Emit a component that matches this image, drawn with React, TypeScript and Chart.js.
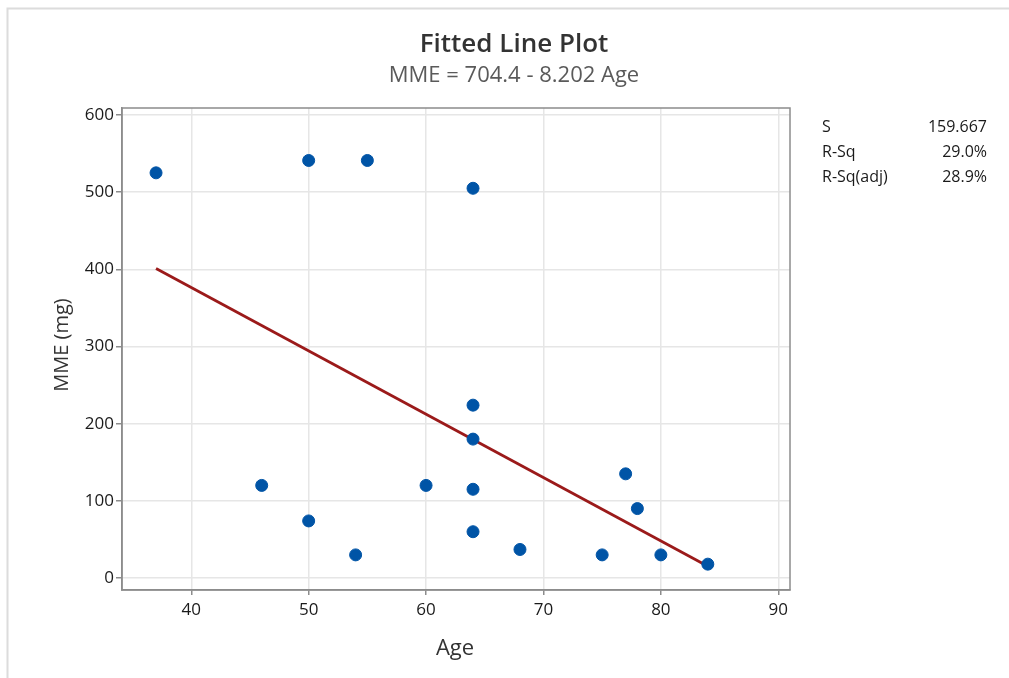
import React, { useEffect, useRef } from "react";
import { Chart, registerables } from "chart.js";

Chart.register(...registerables);

// Observations (Age, MME in mg)
const ages = [37, 50, 55, 64, 64, 64, 46, 60, 64, 50, 77, 78, 64, 54, 68, 75, 80, 84];
const mme = [525, 541, 541, 505, 224, 180, 120, 120, 115, 74, 135, 90, 60, 30, 37, 30, 30, 18];

// Fitted line end points (MME = 704.4 - 8.202 Age)
const fitAges = [37, 84];
const fitMme = [401.0, 15.4];

const xTicks = [40, 50, 60, 70, 80, 90];
const yTicks = [0, 100, 200, 300, 400, 500, 600];

const titleText = "Fitted Line Plot";
const subtitleText = "MME = 704.4 - 8.202 Age";
const xTitle = "Age";
const yTitle = "MME (mg)";
const statLabels = ["S", "R-Sq", "R-Sq(adj)"];
const statValues = ["159.667", "29.0%", "28.9%"];

const FONT = '"Open Sans", "Noto Sans", sans-serif';

export default function App() {
  const ref = useRef<HTMLCanvasElement>(null);

  useEffect(() => {
    if (!ref.current) return;

    const overlay = {
      id: "overlay",
      afterDraw(chart: any) {
        const { ctx, chartArea: a } = chart;
        ctx.save();
        // outer frame
        ctx.strokeStyle = "#dcdcdc";
        ctx.lineWidth = 2;
        ctx.beginPath();
        ctx.moveTo(7.5, 678);
        ctx.lineTo(7.5, 8.5);
        ctx.lineTo(1009, 8.5);
        ctx.stroke();

        // plot border
        ctx.strokeStyle = "#8c8c8c";
        ctx.lineWidth = 1.5;
        ctx.strokeRect(a.left, a.top, a.right - a.left, a.bottom - a.top);

        // titles
        ctx.textAlign = "center";
        ctx.textBaseline = "middle";
        ctx.fillStyle = "#333333";
        ctx.font = `600 26px ${FONT}`;
        ctx.fillText(titleText, 514, 45);
        ctx.fillStyle = "#5a5a5a";
        ctx.font = `22px ${FONT}`;
        ctx.fillText(subtitleText, 514, 76);

        // axis titles
        ctx.fillStyle = "#333333";
        ctx.font = `22px ${FONT}`;
        ctx.fillText(xTitle, 455, 649);
        ctx.font = `20px ${FONT}`;
        ctx.save();
        ctx.translate(62, 345);
        ctx.rotate(-Math.PI / 2);
        ctx.fillText(yTitle, 0, 0);
        ctx.restore();

        // stats
        ctx.fillStyle = "#1a1a1a";
        ctx.font = `16px ${FONT}`;
        statLabels.forEach((lab, i) => {
          const y = 127 + i * 25;
          ctx.textAlign = "left";
          ctx.fillText(lab, 822, y);
          ctx.textAlign = "right";
          ctx.fillText(statValues[i], 987, y);
        });
        ctx.restore();
      },
    };

    const chart = new Chart(ref.current, {
      type: "scatter",
      data: {
        datasets: [
          {
            type: "line",
            data: fitAges.map((x, i) => ({ x, y: fitMme[i] })),
            borderColor: "#9b1a1a",
            borderWidth: 2.8,
            pointRadius: 0,
            fill: false,
            order: 2,
          } as any,
          {
            type: "scatter",
            data: ages.map((x, i) => ({ x, y: mme[i] })),
            backgroundColor: "#0054a6",
            borderColor: "#0054a6",
            pointRadius: 6,
            pointHoverRadius: 6,
            order: 1,
          },
        ],
      },
      options: {
        responsive: false,
        animation: false,
        events: [],
        layout: { padding: { left: 0, top: 108, right: 219, bottom: 0 } },
        plugins: {
          legend: { display: false },
          tooltip: { enabled: false },
          title: { display: false },
        },
        scales: {
          x: {
            type: "linear",
            min: 34.1,
            max: 91.0,
            afterBuildTicks: (s: any) => {
              s.ticks = xTicks.map((v) => ({ value: v }));
            },
            afterFit: (s: any) => {
              s.height = 88;
            },
            grid: {
              color: "#e6e6e6",
              lineWidth: 1.5,
              tickColor: "#8c8c8c",
              tickLength: 5,
              tickWidth: 1.5,
            },
            border: { display: true, color: "#8c8c8c", width: 1.5 },
            ticks: {
              font: { family: FONT, size: 17 },
              color: "#1a1a1a",
              padding: 5,
              maxRotation: 0,
            },
          },
          y: {
            type: "linear",
            min: -15.5,
            max: 609,
            afterBuildTicks: (s: any) => {
              s.ticks = yTicks.map((v) => ({ value: v }));
            },
            afterFit: (s: any) => {
              s.width = 122;
            },
            grid: {
              color: "#e6e6e6",
              lineWidth: 1.5,
              tickColor: "#8c8c8c",
              tickLength: 6,
              tickWidth: 1.5,
            },
            border: { display: true, color: "#8c8c8c", width: 1.5 },
            ticks: {
              font: { family: FONT, size: 17 },
              color: "#1a1a1a",
              padding: 2,
            },
          },
        },
      },
      plugins: [overlay],
    });

    return () => chart.destroy();
  }, []);

  return (
    <div
      style={{
        position: "absolute",
        left: 0,
        top: 0,
        width: 1009,
        height: 678,
        background: "#ffffff",
      }}
    >
      <canvas ref={ref} width={1009} height={678} style={{ display: "block" }} />
    </div>
  );
}
